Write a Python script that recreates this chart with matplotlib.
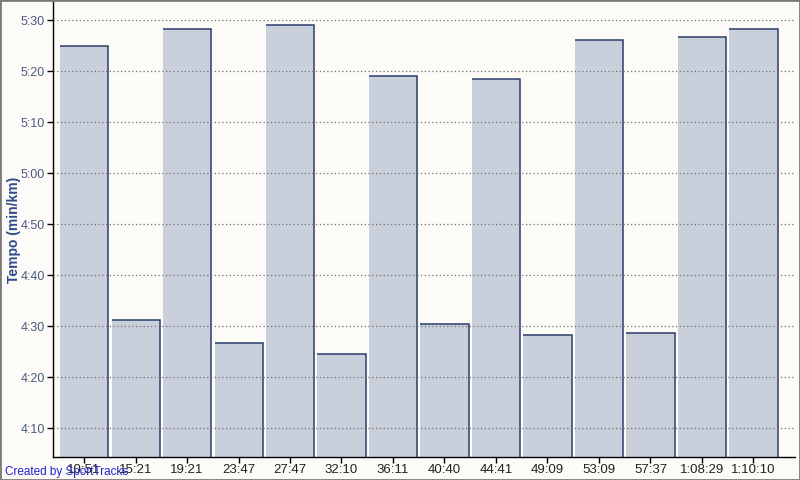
import matplotlib
matplotlib.use("Agg")
import matplotlib.pyplot as plt
from matplotlib.patches import Rectangle

# Lap split times (x labels) and pace per lap in seconds per km
lap_labels = ["10:51", "15:21", "19:21", "23:47", "27:47", "32:10", "36:11",
              "40:40", "44:41", "49:09", "53:09", "57:37", "1:08:29", "1:10:10"]
pace_sec = [325.0, 271.2, 328.4, 266.7, 329.0, 264.5, 319.0,
            270.4, 318.6, 268.4, 326.1, 268.8, 326.7, 328.4]
y_ticks = [250, 260, 270, 280, 290, 300, 310, 320, 330]
y_tick_labels = ["4:10", "4:20", "4:30", "4:40", "4:50", "5:00", "5:10", "5:20", "5:30"]

BG = "#fcfbf7"
FILL = "#c9cfdb"
EDGE = "#2b3d6b"

plt.rcParams['font.family'] = ['Liberation Sans', 'DejaVu Sans']

fig = plt.figure(figsize=(8, 4.8), dpi=100, facecolor=BG)
ax = fig.add_axes([53/800, 23/480, 742/800, 455/480], facecolor=BG)

ymin, ymax = 244.4, 333.6
x = list(range(len(pace_sec)))
w_left, w_right = 0.466, 0.472

ax.bar([xi - w_left for xi in x], [p - ymin for p in pace_sec], bottom=ymin,
       width=w_left + w_right, align='edge', color=FILL, edgecolor='none', zorder=1)
for xi, p in zip(x, pace_sec):
    ax.plot([xi - w_left, xi + w_right, xi + w_right], [p, p, ymin],
            color=EDGE, lw=1.1, zorder=2, solid_capstyle='butt', solid_joinstyle='miter')

ax.set_xlim(-0.602, 13.806)
ax.set_ylim(ymin, ymax)
ax.set_yticks(y_ticks)
ax.set_yticklabels(y_tick_labels)
ax.set_xticks(x)
ax.set_xticklabels(lap_labels)

ax.grid(axis='y', linestyle=(0, (1, 2)), color='#707070', lw=0.9)
ax.set_axisbelow(False)

for s in ['top', 'right']:
    ax.spines[s].set_visible(False)
for s in ['left', 'bottom']:
    ax.spines[s].set_color('black')
    ax.spines[s].set_linewidth(1.0)

ax.tick_params(axis='y', length=4, width=1, colors='black', labelcolor='#4a5a80',
               labelsize=9, pad=2)
ax.tick_params(axis='x', length=4, width=1, colors='black', labelcolor='#222222',
               labelsize=9.5, pad=1)

ax.set_ylabel("Tempo (min/km)", color='#2e4a8a', fontsize=10, fontweight='bold',
              va='center')
ax.yaxis.set_label_coords(-39/742, 0.5)

fig.text(5/800, 1 - 472/480, "Created by SportTracks", color='#2222cc', fontsize=8.5,
         va='center', ha='left')

fig.patches.append(Rectangle((0, 0), 1, 1, transform=fig.transFigure, fill=False,
                             edgecolor='#7a7a7a', lw=2, zorder=10))

fig.savefig("out.png", dpi=100, facecolor=BG)
